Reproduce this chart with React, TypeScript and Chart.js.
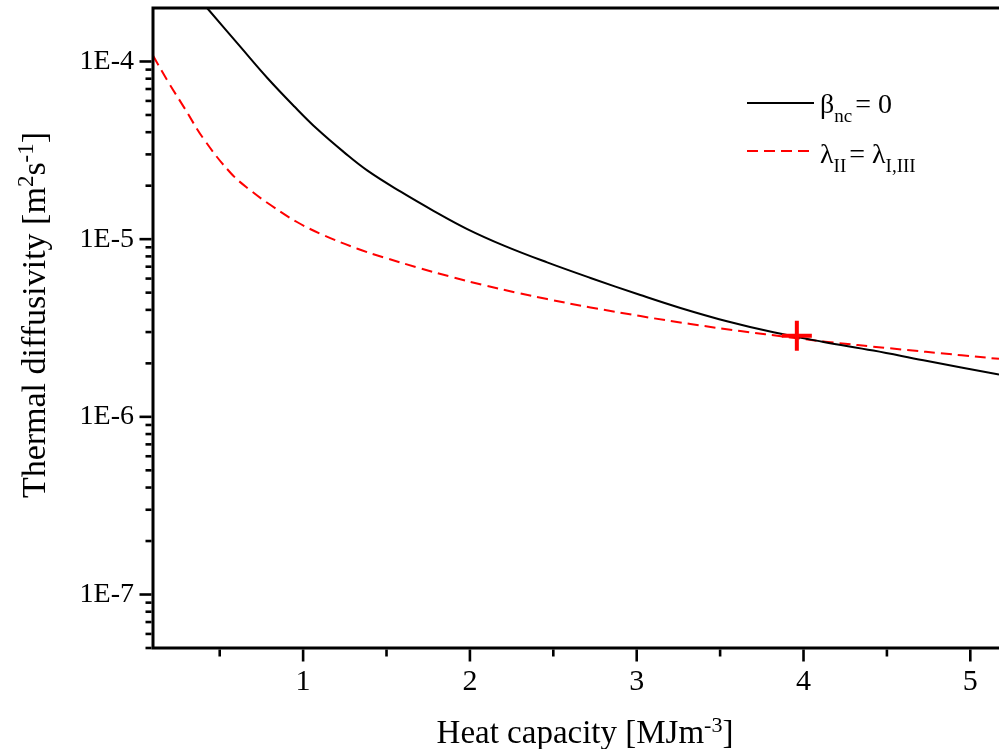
import React, { useEffect, useRef } from 'react';
import { Chart, registerables } from 'chart.js';

Chart.register(...registerables);

// ---- data ----
const heatCapacityBlack = [0.40, 0.428, 0.627, 0.787, 0.946, 1.086, 1.246, 1.386, 1.585, 1.784, 1.984, 2.204, 2.463, 2.723, 3.022, 3.262, 3.541, 3.820, 4.120, 4.419, 4.719, 5.172];
const diffusivityBlack = [2.12e-4, 1.98e-4, 1.20e-4, 8.05e-5, 5.60e-5, 4.15e-5, 3.08e-5, 2.43e-5, 1.85e-5, 1.44e-5, 1.14e-5, 9.2e-6, 7.40e-6, 6.05e-6, 4.85e-6, 4.10e-6, 3.45e-6, 2.99e-6, 2.64e-6, 2.36e-6, 2.08e-6, 1.73e-6];

const heatCapacityRed = [0.1, 0.188, 0.287, 0.407, 0.567, 0.687, 0.807, 0.966, 1.126, 1.326, 1.485, 1.685, 1.884, 2.084, 2.284, 2.463, 2.723, 3.022, 3.322, 3.621, 3.920, 4.130, 4.519, 4.948, 5.172];
const diffusivityRed = [1.079e-4, 7.76e-5, 5.50e-5, 3.63e-5, 2.35e-5, 1.875e-5, 1.552e-5, 1.245e-5, 1.05e-5, 8.83e-6, 7.89e-6, 6.93e-6, 6.15e-6, 5.51e-6, 4.99e-6, 4.60e-6, 4.13e-6, 3.69e-6, 3.33e-6, 3.04e-6, 2.80e-6, 2.65e-6, 2.43e-6, 2.22e-6, 2.12e-6];

const crossingX = [3.96];
const crossingY = [2.86e-6];

const xMajorTicks = [1, 2, 3, 4, 5];
const xMinorTicks = [0.5, 1.5, 2.5, 3.5, 4.5];
const yDecades = [1e-7, 1e-6, 1e-5, 1e-4];
const yTickLabels = ['1E-7', '1E-6', '1E-5', '1E-4'];
const yMinorMultipliers = [2, 3, 4, 5, 6, 7, 8, 9];

const xMin = 0.1;
const xMax = 5.172;
const yMin = 5e-8;
const yMax = 2e-4;

const legendMain = ['β', 'λ'];
const legendSub = ['nc', 'II'];
const legendRest = [' = 0', ' = λ'];
const legendRestSub = ['', 'I,III'];

const SERIF = "'Liberation Serif', 'Times New Roman', serif";

// target plot-area frame inside the 999x749 canvas
const AREA = { left: 153, top: 8, right: 999, bottom: 648 };

const framePlugin = {
  id: 'framePlugin',
  afterDatasetsDraw(chart: any) {
    const { ctx, chartArea: ca, scales } = chart;
    const xs = scales.x;
    const ys = scales.y;
    ctx.save();
    ctx.strokeStyle = '#000';
    ctx.lineCap = 'butt';
    // frame
    ctx.lineWidth = 3;
    ctx.beginPath();
    ctx.moveTo(ca.left, ca.top - 1.5);
    ctx.lineTo(ca.left, ca.bottom + 1.5);
    ctx.moveTo(ca.left - 1.5, ca.bottom);
    ctx.lineTo(chart.width, ca.bottom);
    ctx.moveTo(ca.left - 1.5, ca.top);
    ctx.lineTo(chart.width, ca.top);
    ctx.stroke();

    // y ticks: major decades + minor multiples
    ctx.lineWidth = 2.6;
    const yTick = (v: number, len: number) => {
      if (v < yMin * 0.999 || v >= yMax * 0.999) return;
      const p = ys.getPixelForValue(v);
      ctx.beginPath();
      ctx.moveTo(ca.left - 1.5, p);
      ctx.lineTo(ca.left - 1.5 - len, p);
      ctx.stroke();
    };
    [1e-8, ...yDecades].forEach((d) => {
      yTick(d, 12);
      yMinorMultipliers.forEach((m) => yTick(d * m, 6));
    });
    // x ticks
    const xTick = (v: number, len: number) => {
      const p = xs.getPixelForValue(v);
      ctx.beginPath();
      ctx.moveTo(p, ca.bottom + 1.5);
      ctx.lineTo(p, ca.bottom + 1.5 + len);
      ctx.stroke();
    };
    xMajorTicks.forEach((v) => xTick(v, 12));
    xMinorTicks.forEach((v) => xTick(v, 7));

    ctx.fillStyle = '#000';
    ctx.textBaseline = 'alphabetic';
    ctx.textAlign = 'left';

    // x title with superscript
    const xMainA = 'Heat capacity [MJm';
    const xSup = '-3';
    const xMainB = ']';
    const mainF = `33px ${SERIF}`;
    const supF = `22px ${SERIF}`;
    ctx.font = mainF;
    const wA = ctx.measureText(xMainA).width;
    const wB = ctx.measureText(xMainB).width;
    ctx.font = supF;
    const wS = ctx.measureText(xSup).width;
    const totalX = wA + wS + wB;
    let xx = 585 - totalX / 2;
    const xBase = 743;
    ctx.font = mainF;
    ctx.fillText(xMainA, xx, xBase);
    xx += wA;
    ctx.font = supF;
    ctx.fillText(xSup, xx, xBase - 11);
    xx += wS;
    ctx.font = mainF;
    ctx.fillText(xMainB, xx, xBase);

    // y title rotated with superscripts
    const yParts: [string, boolean][] = [
      ['Thermal diffusivity [m', false],
      ['2', true],
      ['s', false],
      ['-1', true],
      [']', false],
    ];
    const yMainF = `34px ${SERIF}`;
    const ySupF = `23px ${SERIF}`;
    let totalY = 0;
    const widths = yParts.map(([s, sup]) => {
      ctx.font = sup ? ySupF : yMainF;
      const w = ctx.measureText(s).width;
      totalY += w;
      return w;
    });
    ctx.save();
    ctx.translate(45, 315);
    ctx.rotate(-Math.PI / 2);
    let yy = -totalY / 2;
    yParts.forEach(([s, sup], i) => {
      ctx.font = sup ? ySupF : yMainF;
      ctx.fillText(s, yy, sup ? -12 : 0);
      yy += widths[i];
    });
    ctx.restore();

    // legend
    const ds = chart.data.datasets;
    const rowsY = [103, 151];
    const baseY = [113, 163];
    for (let i = 0; i < 2; i++) {
      const d = ds[i];
      ctx.save();
      ctx.strokeStyle = d.borderColor;
      ctx.lineWidth = d.borderWidth;
      ctx.setLineDash(d.borderDash || []);
      ctx.beginPath();
      ctx.moveTo(747, rowsY[i]);
      ctx.lineTo(814, rowsY[i]);
      ctx.stroke();
      ctx.restore();
      const lf = `28px ${SERIF}`;
      const sf = `19px ${SERIF}`;
      let lx = 820;
      ctx.font = lf;
      ctx.fillText(legendMain[i], lx, baseY[i]);
      lx += ctx.measureText(legendMain[i]).width;
      ctx.font = sf;
      ctx.fillText(legendSub[i], lx, baseY[i] + 9);
      lx += ctx.measureText(legendSub[i]).width - 4;
      ctx.font = lf;
      ctx.fillText(legendRest[i], lx, baseY[i]);
      lx += ctx.measureText(legendRest[i]).width;
      if (legendRestSub[i]) {
        ctx.font = sf;
        ctx.fillText(legendRestSub[i], lx, baseY[i] + 9);
      }
    }
    ctx.restore();
  },
};

export default function App() {
  const canvasRef = useRef<HTMLCanvasElement | null>(null);

  useEffect(() => {
    document.body.style.margin = '0';
    document.body.style.overflow = 'hidden';
    const canvas = canvasRef.current;
    if (!canvas) return;

    const blackData = heatCapacityBlack.map((x, i) => ({ x, y: diffusivityBlack[i] }));
    const redData = heatCapacityRed.map((x, i) => ({ x, y: diffusivityRed[i] }));
    const crossData = crossingX.map((x, i) => ({ x, y: crossingY[i] }));

    const chart = new Chart(canvas, {
      type: 'line',
      data: {
        datasets: [
          {
            label: 'βnc = 0',
            data: blackData,
            borderColor: '#000000',
            borderWidth: 2,
            pointRadius: 0,
            tension: 0.4,
            fill: false,
            order: 2,
          },
          {
            label: 'λII = λI,III',
            data: redData,
            borderColor: '#ff0000',
            borderWidth: 2,
            borderDash: [11, 6],
            pointRadius: 0,
            tension: 0.4,
            fill: false,
            order: 3,
          },
          {
            label: 'crossing',
            data: crossData,
            showLine: false,
            pointStyle: 'cross',
            pointRadius: 15,
            pointBorderWidth: 4,
            pointBorderColor: '#ff0000',
            borderColor: '#ff0000',
            order: 1,
          },
        ],
      } as any,
      options: {
        animation: false,
        responsive: true,
        maintainAspectRatio: false,
        layout: { autoPadding: false, padding: { top: AREA.top, right: 0, bottom: 0, left: 0 } },
        plugins: {
          legend: { display: false },
          tooltip: { enabled: false },
        },
        scales: {
          x: {
            type: 'linear',
            min: xMin,
            max: xMax,
            afterBuildTicks: (s: any) => {
              s.ticks = xMajorTicks.map((v) => ({ value: v }));
            },
            afterFit: (s: any) => {
              s.height = 749 - AREA.bottom;
              s.paddingLeft = 0;
              s.paddingRight = 0;
            },
            ticks: {
              autoSkip: false,
              maxRotation: 0,
              padding: 0,
              color: '#000',
              font: { family: SERIF, size: 30 },
              callback: (v: any) => String(v),
            },
            grid: { display: false, drawTicks: true, tickLength: 16 },
            border: { display: false },
          },
          y: {
            type: 'logarithmic',
            min: yMin,
            max: yMax,
            afterBuildTicks: (s: any) => {
              s.ticks = yDecades.map((v) => ({ value: v }));
            },
            afterFit: (s: any) => {
              s.width = AREA.left;
              s.paddingTop = 0;
              s.paddingBottom = 0;
            },
            ticks: {
              autoSkip: false,
              padding: 0,
              color: '#000',
              font: { family: SERIF, size: 28 },
              callback: (v: any) => {
                const n = Number(v);
                const idx = yDecades.findIndex((d) => Math.abs(Math.log10(d) - Math.log10(n)) < 1e-6);
                return idx >= 0 ? yTickLabels[idx] : '';
              },
            },
            grid: { display: false, drawTicks: true, tickLength: 19 },
            border: { display: false },
          },
        },
      } as any,
      plugins: [framePlugin],
    });

    // correct any residual layout offset so the plot frame lands where the reference has it
    for (let k = 0; k < 3; k++) {
      const ca = chart.chartArea;
      if (!ca) break;
      const pad = (chart.options as any).layout.padding;
      const dTop = AREA.top - ca.top;
      const dRight = ca.right - AREA.right;
      const dBottom = ca.bottom - AREA.bottom;
      if (Math.abs(dTop) < 0.5 && Math.abs(dRight) < 0.5 && Math.abs(dBottom) < 0.5) break;
      (chart.options as any).layout.padding = {
        top: pad.top + dTop,
        right: pad.right + dRight,
        bottom: pad.bottom + dBottom,
        left: pad.left,
      };
      chart.update();
    }

    return () => {
      chart.destroy();
    };
  }, []);

  return (
    <div style={{ position: 'relative', width: '999px', height: '749px', background: '#fff' }}>
      <canvas ref={canvasRef} style={{ display: 'block' }} />
    </div>
  );
}
